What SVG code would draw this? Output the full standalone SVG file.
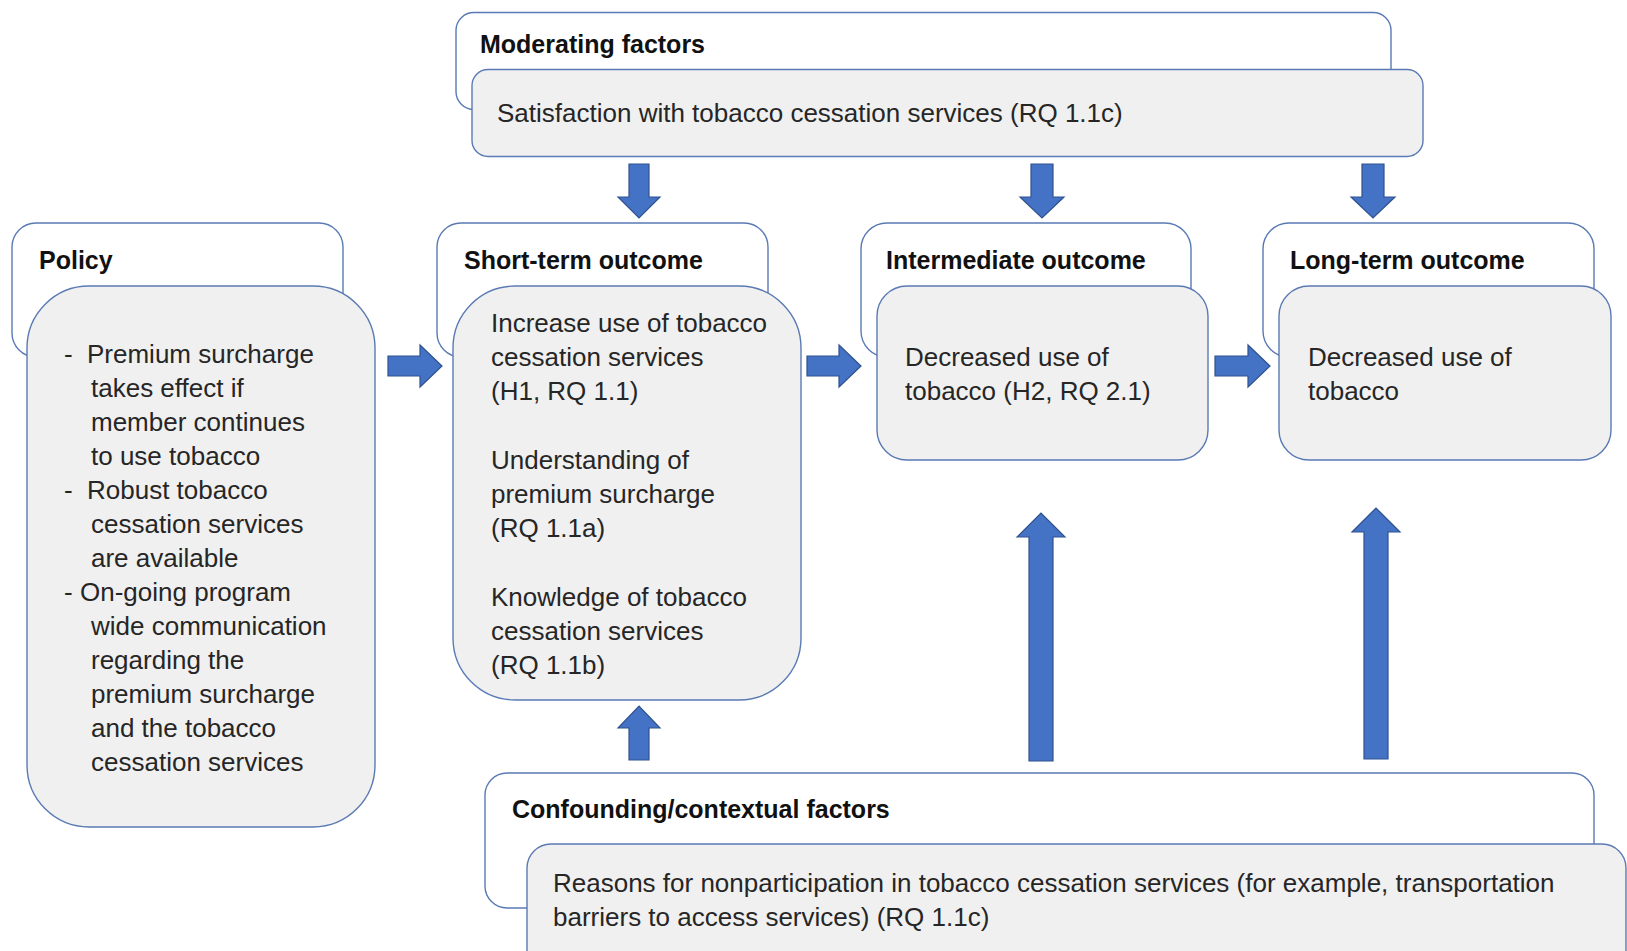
<svg xmlns="http://www.w3.org/2000/svg" width="1627" height="951" viewBox="0 0 1627 951">
  <style>
    .hdr { fill: #ffffff; stroke: #5a7ab4; stroke-width: 1.4; }
    .box { fill: #f0f0f0; stroke: #5a7ab4; stroke-width: 1.4; }
    .arrow { fill: #4472c4; stroke: #2f528f; stroke-width: 1.2; }
    .title { font-family: "Liberation Sans", Arial, sans-serif; font-weight: bold; font-size: 25px; fill: #111111; }
    .body { font-family: "Liberation Sans", Arial, sans-serif; font-size: 26px; fill: #262626; }
  </style>
  <rect width="1627" height="951" fill="#ffffff"/>

  <!-- Moderating factors -->
  <g id="moderating">
    <rect class="hdr" x="456" y="12.5" width="935" height="97" rx="18"/>
    <rect class="box" x="472" y="69.5" width="951" height="87" rx="16"/>
    <text class="title" x="480" y="53">Moderating factors</text>
    <text class="body" x="497" y="122">Satisfaction with tobacco cessation services (RQ 1.1c)</text>
  </g>

  <!-- Policy -->
  <g id="policy">
    <rect class="hdr" x="12" y="223" width="331" height="134" rx="24"/>
    <rect class="box" x="27" y="286" width="348" height="541" rx="62"/>
    <text class="title" x="39" y="269">Policy</text>
    <g class="body">
      <text x="64" y="363">-</text><text x="87" y="363">Premium surcharge</text>
      <text x="91" y="397">takes effect if</text>
      <text x="91" y="431">member continues</text>
      <text x="91" y="465">to use tobacco</text>
      <text x="64" y="499">-</text><text x="87" y="499">Robust tobacco</text>
      <text x="91" y="533">cessation services</text>
      <text x="91" y="567">are available</text>
      <text x="64" y="601">-</text><text x="80" y="601">On-going program</text>
      <text x="91" y="635">wide communication</text>
      <text x="91" y="669">regarding the</text>
      <text x="91" y="703">premium surcharge</text>
      <text x="91" y="737">and the tobacco</text>
      <text x="91" y="771">cessation services</text>
    </g>
  </g>

  <!-- Short-term outcome -->
  <g id="short-term">
    <rect class="hdr" x="437" y="223" width="331" height="134" rx="24"/>
    <rect class="box" x="453" y="286" width="348" height="414" rx="62"/>
    <text class="title" x="464" y="269">Short-term outcome</text>
    <g class="body">
      <text x="491" y="332">Increase use of tobacco</text>
      <text x="491" y="366">cessation services</text>
      <text x="491" y="400">(H1, RQ 1.1)</text>
      <text x="491" y="469">Understanding of</text>
      <text x="491" y="503">premium surcharge</text>
      <text x="491" y="537">(RQ 1.1a)</text>
      <text x="491" y="606">Knowledge of tobacco</text>
      <text x="491" y="640">cessation services</text>
      <text x="491" y="674">(RQ 1.1b)</text>
    </g>
  </g>

  <!-- Intermediate outcome -->
  <g id="intermediate">
    <rect class="hdr" x="861" y="223" width="330" height="134" rx="26"/>
    <rect class="box" x="877" y="286" width="331" height="174" rx="30"/>
    <text class="title" x="886" y="269">Intermediate outcome</text>
    <text class="body" x="905" y="366">Decreased use of</text>
    <text class="body" x="905" y="400">tobacco (H2, RQ 2.1)</text>
  </g>

  <!-- Long-term outcome -->
  <g id="long-term">
    <rect class="hdr" x="1263" y="223" width="331" height="134" rx="26"/>
    <rect class="box" x="1279" y="286" width="332" height="174" rx="30"/>
    <text class="title" x="1290" y="269">Long-term outcome</text>
    <text class="body" x="1308" y="366">Decreased use of</text>
    <text class="body" x="1308" y="400">tobacco</text>
  </g>

  <!-- Confounding/contextual factors -->
  <g id="confounding">
    <rect class="hdr" x="485" y="773" width="1109" height="135" rx="22"/>
    <rect class="box" x="527" y="844" width="1099" height="140" rx="24"/>
    <text class="title" x="512" y="818">Confounding/contextual factors</text>
    <text class="body" x="553" y="892">Reasons for nonparticipation in tobacco cessation services (for example, transportation</text>
    <text class="body" x="553" y="926">barriers to access services) (RQ 1.1c)</text>
  </g>

  <!-- Block arrows -->
  <g id="connectors">
    <!-- horizontal flow -->
    <polygon class="arrow" points="388,356 420,356 420,345 442,366 420,387 420,376 388,376"/>
    <polygon class="arrow" points="807,356 839,356 839,345 861,366 839,387 839,376 807,376"/>
    <polygon class="arrow" points="1215,356 1248,356 1248,345 1270,366 1248,387 1248,376 1215,376"/>
    <!-- moderating, downward -->
    <polygon class="arrow" points="629,164 649,164 649,197 660,197 639,218 618,197 629,197"/>
    <polygon class="arrow" points="1031,164 1053,164 1053,197 1064,197 1042,218 1020,197 1031,197"/>
    <polygon class="arrow" points="1362,164 1384,164 1384,197 1395,197 1373,218 1351,197 1362,197"/>
    <!-- confounding, upward -->
    <polygon class="arrow" points="629,760 649,760 649,728 660,728 639,706 618,728 629,728"/>
    <polygon class="arrow" points="1029,761 1053,761 1053,537 1065,537 1041,513 1017,537 1029,537"/>
    <polygon class="arrow" points="1364,759 1388,759 1388,532 1400,532 1376,508 1352,532 1364,532"/>
  </g>
</svg>
